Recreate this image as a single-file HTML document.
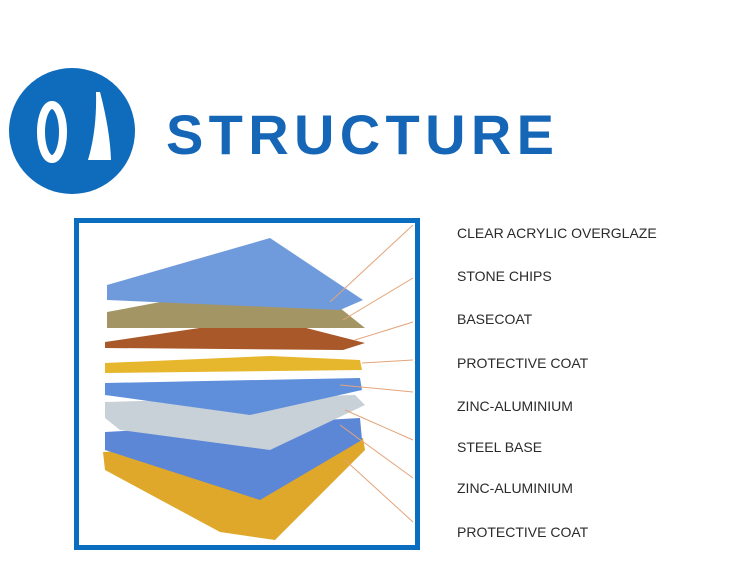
<!DOCTYPE html>
<html><head><meta charset="utf-8"><style>
body{margin:0;width:750px;height:568px;background:#fff;overflow:hidden;position:relative;font-family:"Liberation Sans",Arial,sans-serif}
.l{position:absolute;left:457px;font-size:14px;color:#2a2a2a;white-space:nowrap;line-height:14px}
</style></head><body>
<svg width="750" height="568" style="position:absolute;left:0;top:0">
<circle cx="72" cy="131" r="63" fill="#0f6bbb"/>
<ellipse cx="52" cy="132" rx="11" ry="27" fill="none" stroke="#fff" stroke-width="8"/>
<path d="M96 92 L100 92 Q110 130 111 160 L88 160 Q97 130 96 92Z" fill="#fff"/>
<text x="166" y="154" font-family="Liberation Sans,sans-serif" font-weight="bold" font-size="56" fill="#1566b7" textLength="388" lengthAdjust="spacing">STRUCTURE</text>
<rect x="76.5" y="220.5" width="341" height="327" fill="#fff" stroke="#0b6dbf" stroke-width="5"/>
<polygon points="103,452 363,438 365,450 275,540 220,532 105,470" fill="#e0a82a"/>
<polygon points="105,432 360,418 362,440 260,500 105,450" fill="#5c86d6"/>
<polygon points="105,402 355,395 365,405 270,450 120,430 105,418" fill="#c8d0d8"/>
<polygon points="105,383 360,378 362,390 250,415 105,395" fill="#5f8fdb"/>
<polygon points="105,363 270,356 360,360 362,370 105,373" fill="#e6b62c"/>
<polygon points="105,342 267,318 365,343 343,350 105,348" fill="#a9582a"/>
<polygon points="107,312 300,276 365,328 107,328" fill="#a39664"/>
<polygon points="107,285 270,238 363,300 340,310 107,300" fill="#6f9adc"/>
<g stroke="#e3a47a" stroke-width="1">
<line x1="413" y1="225" x2="330" y2="302"/><line x1="413" y1="278" x2="343" y2="320"/>
<line x1="413" y1="322" x2="355" y2="340"/><line x1="413" y1="360" x2="362" y2="363"/>
<line x1="413" y1="392" x2="340" y2="385"/><line x1="413" y1="440" x2="345" y2="410"/>
<line x1="413" y1="478" x2="340" y2="425"/><line x1="413" y1="522" x2="345" y2="460"/>
</g>
</svg>
<div class="l" style="top:226px">CLEAR ACRYLIC OVERGLAZE</div>
<div class="l" style="top:269px">STONE CHIPS</div>
<div class="l" style="top:312px">BASECOAT</div>
<div class="l" style="top:356px">PROTECTIVE COAT</div>
<div class="l" style="top:399px">ZINC-ALUMINIUM</div>
<div class="l" style="top:440px">STEEL BASE</div>
<div class="l" style="top:481px">ZINC-ALUMINIUM</div>
<div class="l" style="top:525px">PROTECTIVE COAT</div>
</body></html>
